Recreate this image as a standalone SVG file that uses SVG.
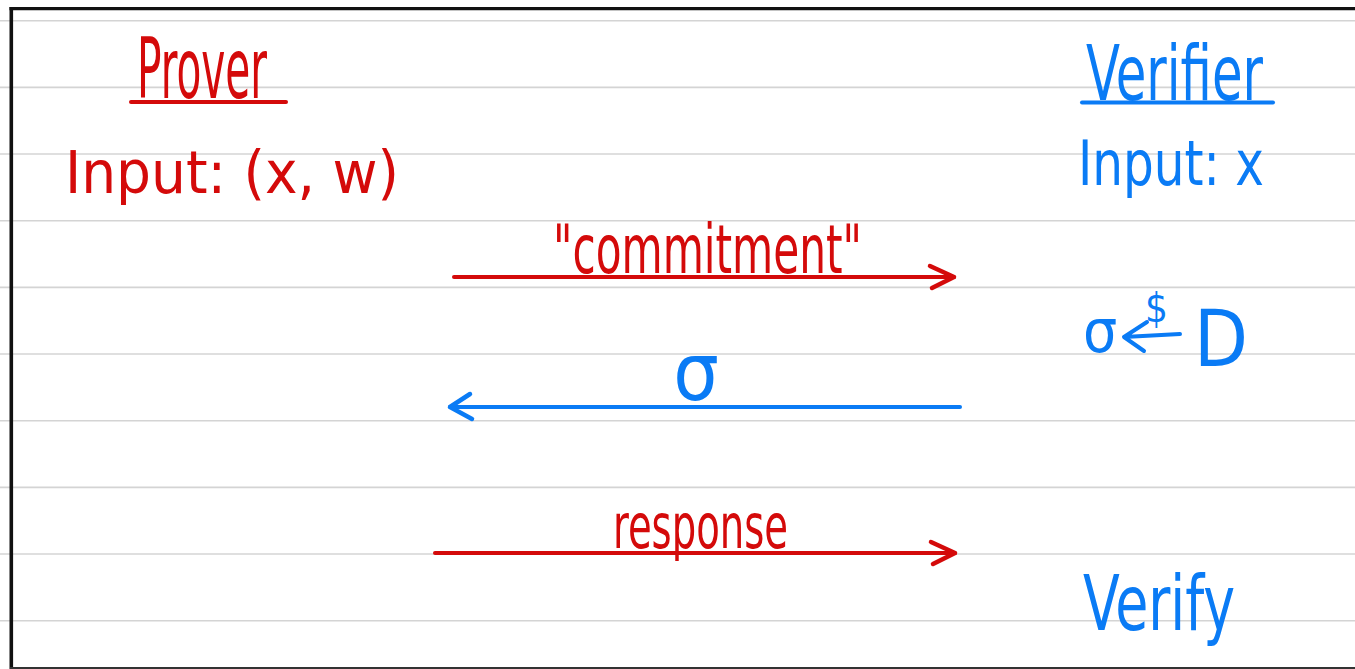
<svg xmlns="http://www.w3.org/2000/svg" width="1355" height="669" viewBox="0 0 1355 669">
  <style>
    .ruled { stroke: #d4d4d4; stroke-width: 1.6; }
    .border { stroke: #111111; fill: none; }
    .t { font-family: "Liberation Sans Narrow", "DejaVu Sans Condensed", "Liberation Sans", sans-serif; }
    .red { fill: #d40a0a; }
    .blue { fill: #0a7bf5; }
    .sred { stroke: #d40a0a; stroke-width: 4; stroke-linecap: round; fill: none; }
    .sblue { stroke: #0a7bf5; stroke-width: 4; stroke-linecap: round; stroke-linejoin: round; fill: none; }
  </style>
  <defs>
    <marker id="headRed" markerUnits="userSpaceOnUse" viewBox="-30 -16 36 32" refX="0" refY="0" markerWidth="36" markerHeight="32" orient="auto" overflow="visible">
      <path d="M-24,-11 L0,0 L-22,11" fill="none" stroke="#d40a0a" stroke-width="4.5" stroke-linecap="round" stroke-linejoin="round"/>
    </marker>
    <marker id="headBlue" markerUnits="userSpaceOnUse" viewBox="-30 -16 36 32" refX="0" refY="0" markerWidth="36" markerHeight="32" orient="auto" overflow="visible">
      <path d="M-22,-12 L0,0 L-20,13" fill="none" stroke="#0a7bf5" stroke-width="4.5" stroke-linecap="round" stroke-linejoin="round"/>
    </marker>
  </defs>
  <rect x="0" y="0" width="1355" height="669" fill="#ffffff"/>
  <g id="paper">
    <line class="ruled" x1="0" y1="20.7" x2="1355" y2="20.7"/>
    <line class="ruled" x1="0" y1="87.4" x2="1355" y2="87.4"/>
    <line class="ruled" x1="0" y1="154" x2="1355" y2="154"/>
    <line class="ruled" x1="0" y1="220.7" x2="1355" y2="220.7"/>
    <line class="ruled" x1="0" y1="287.4" x2="1355" y2="287.4"/>
    <line class="ruled" x1="0" y1="354" x2="1355" y2="354"/>
    <line class="ruled" x1="0" y1="420.7" x2="1355" y2="420.7"/>
    <line class="ruled" x1="0" y1="487.4" x2="1355" y2="487.4"/>
    <line class="ruled" x1="0" y1="554" x2="1355" y2="554"/>
    <line class="ruled" x1="0" y1="620.7" x2="1355" y2="620.7"/>
    <line class="border" x1="11.3" y1="7" x2="11.3" y2="669" stroke-width="3.6"/>
    <line class="border" x1="9.5" y1="8.6" x2="1355" y2="8.6" stroke-width="3.2"/>
    <line x1="10" y1="668" x2="1355" y2="668" stroke="#333333" stroke-width="2"/>
  </g>
  <g id="prover">
    <text class="t red" x="137" y="98" font-size="84" textLength="130" lengthAdjust="spacingAndGlyphs">Prover</text>
    <line class="sred" x1="131" y1="102" x2="286" y2="102"/>
    <text class="t red" x="65" y="193" font-size="58" textLength="334" lengthAdjust="spacingAndGlyphs">Input: (x, w)</text>
  </g>
  <g id="verifier">
    <text class="t blue" x="1086" y="100" font-size="76" textLength="177" lengthAdjust="spacingAndGlyphs">Verifier</text>
    <line class="sblue" x1="1082" y1="102.5" x2="1273" y2="102.5"/>
    <text class="t blue" x="1078" y="185" font-size="62" textLength="186" lengthAdjust="spacingAndGlyphs">Input: x</text>
  </g>
  <g id="verifier-sample">
    <text class="t blue" x="1083" y="352" font-size="60">σ</text>
    <path class="sblue" d="M1180,334 L1124,337 M1147,322 L1124,337 L1144,351"/>
    <text class="t blue" x="1145" y="322" font-size="40">$</text>
    <text class="t blue" x="1194" y="366" font-size="78">D</text>
  </g>
  <g id="verifier-verify">
    <text class="t blue" x="1083" y="630" font-size="76" textLength="152" lengthAdjust="spacingAndGlyphs">Verify</text>
  </g>
  <g id="connectors">
    <g id="msg-commitment">
      <line class="sred" x1="454" y1="277" x2="954" y2="277" marker-end="url(#headRed)"/>
      <text class="t red" x="553" y="273" font-size="68" textLength="309" lengthAdjust="spacingAndGlyphs">"commitment"</text>
    </g>
    <g id="msg-challenge">
      <line class="sblue" x1="960" y1="407" x2="450" y2="407" marker-end="url(#headBlue)"/>
      <text class="t blue" x="696" y="400" font-size="80" text-anchor="middle">σ</text>
    </g>
    <g id="msg-response">
      <line class="sred" x1="435" y1="553" x2="955" y2="553" marker-end="url(#headRed)"/>
      <text class="t red" x="613" y="548" font-size="62" textLength="175" lengthAdjust="spacingAndGlyphs">response</text>
    </g>
  </g>
</svg>
